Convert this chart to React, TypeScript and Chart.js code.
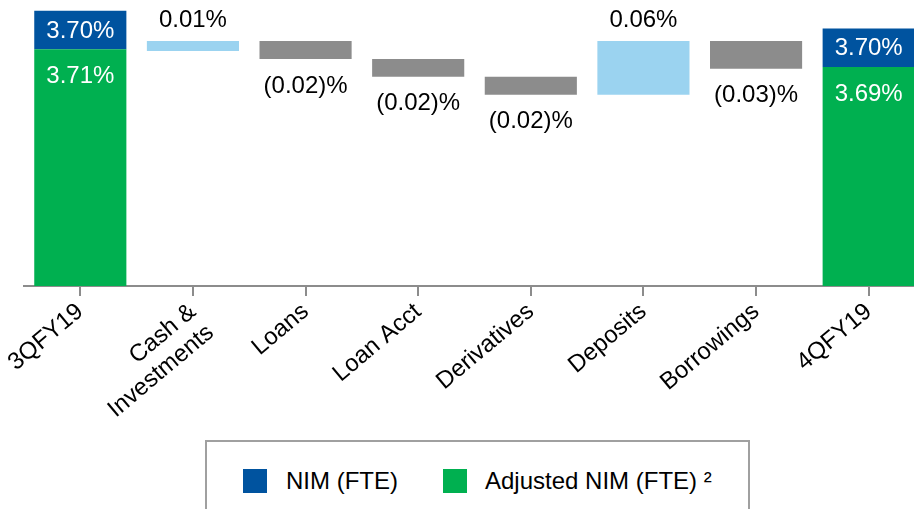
import React, { useEffect, useRef } from 'react';
import { Chart, registerables } from 'chart.js';

Chart.register(...registerables);

const FONT = "'Liberation Sans', Arial, sans-serif";

const categories: (string | string[])[] = [
  '3QFY19',
  ['Cash &', 'Investments'],
  'Loans',
  'Loan Acct',
  'Derivatives',
  'Deposits',
  'Borrowings',
  '4QFY19',
];

// Value axis (stylised NIM %, truncated baseline)
const axisMin = 3.4;
const axisMax = 3.72;

// Floating bar ranges [start, end]
const adjustedNim = [[3.4, 3.665], null, null, null, null, null, null, [3.4, 3.645]];
const nim = [[3.665, 3.708], null, null, null, null, null, null, [3.645, 3.688]];
const increases = [null, [3.663, 3.674], null, null, null, [3.614, 3.674], null, null];
const decreases = [null, null, [3.654, 3.674], [3.634, 3.654], [3.614, 3.634], null, [3.643, 3.674], null];

const nimLabels = ['3.70%', '', '', '', '', '', '', '3.70%'];
const adjustedLabels = ['3.71%', '', '', '', '', '', '', '3.69%'];
const changeLabels = ['', '0.01%', '(0.02)%', '(0.02)%', '(0.02)%', '0.06%', '(0.03)%', ''];

const BLUE = '#00539F';
const GREEN = '#00B050';
const LIGHT_BLUE = '#9BD3F0';
const GRAY = '#8C8C8C';

const labelPlugin = {
  id: 'barLabels',
  afterDatasetsDraw(chart: any) {
    const ctx = chart.ctx;
    ctx.save();
    ctx.font = `24px ${FONT}`;
    ctx.textAlign = 'center';
    ctx.textBaseline = 'middle';
    chart.data.datasets.forEach((ds: any, di: number) => {
      const meta = chart.getDatasetMeta(di);
      meta.data.forEach((el: any, i: number) => {
        const text = ds.labels[i];
        if (!text || !ds.data[i]) return;
        const p = el.getProps(['x', 'y', 'base'], true);
        const top = Math.min(p.y, p.base);
        const bottom = Math.max(p.y, p.base);
        let ty = 0;
        if (ds.kind === 'nim') {
          ctx.fillStyle = '#ffffff';
          ty = (top + bottom) / 2 + 1;
        } else if (ds.kind === 'adjusted') {
          ctx.fillStyle = '#ffffff';
          ty = top + 27;
        } else if (ds.kind === 'increase') {
          ctx.fillStyle = '#000000';
          ty = top - 21;
        } else {
          ctx.fillStyle = '#000000';
          ty = bottom + 27;
        }
        ctx.fillText(text, p.x, ty);
      });
    });
    ctx.restore();
  },
};

export default function App() {
  const ref = useRef<HTMLCanvasElement | null>(null);

  useEffect(() => {
    if (!ref.current) return;
    const common = { grouped: false, barPercentage: 0.818, categoryPercentage: 1, borderWidth: 0 };
    const chart = new Chart(ref.current, {
      type: 'bar',
      data: {
        labels: categories,
        datasets: [
          { label: 'Adjusted NIM (FTE) ²', data: adjustedNim, backgroundColor: GREEN, kind: 'adjusted', labels: adjustedLabels, ...common } as any,
          { label: 'NIM (FTE)', data: nim, backgroundColor: BLUE, kind: 'nim', labels: nimLabels, ...common } as any,
          { label: 'Increase', data: increases, backgroundColor: LIGHT_BLUE, kind: 'increase', labels: changeLabels, ...common } as any,
          { label: 'Decrease', data: decreases, backgroundColor: GRAY, kind: 'decrease', labels: changeLabels, ...common } as any,
        ],
      },
      options: {
        responsive: false,
        animation: false,
        devicePixelRatio: 1,
        layout: { padding: { left: 24, right: 15, top: 0, bottom: 0 } },
        plugins: { legend: { display: false }, tooltip: { enabled: false } },
        scales: {
          x: {
            grid: {
              display: true,
              drawOnChartArea: false,
              drawTicks: true,
              tickLength: 10,
              offset: false,
              color: GRAY,
              lineWidth: 2,
            },
            border: { display: true, color: GRAY, width: 2 },
            ticks: {
              color: '#000000',
              font: { family: FONT, size: 24, lineHeight: 1.15 },
              minRotation: 40,
              maxRotation: 40,
              autoSkip: false,
              padding: 2,
            },
            afterFit: (s: any) => {
              s.paddingLeft = 0;
              s.paddingRight = 0;
              s.height = 223;
            },
          },
          y: { display: false, min: axisMin, max: axisMax },
        },
      } as any,
      plugins: [labelPlugin],
    });
    return () => chart.destroy();
  }, []);

  const textStyle: React.CSSProperties = {
    position: 'absolute',
    fontFamily: FONT,
    fontSize: 24,
    lineHeight: '28px',
    height: 28,
    color: '#000',
    whiteSpace: 'nowrap',
  };

  return (
    <div style={{ position: 'fixed', left: 0, top: 0, width: 914, height: 509, overflow: 'hidden', background: '#fff' }}>
      <canvas ref={ref} width={940} height={509} style={{ display: 'block', width: 940, height: 509 }} />
      <div
        style={{
          position: 'absolute',
          left: 205,
          top: 440,
          width: 545,
          height: 100,
          border: '2px solid #a0a0a0',
          boxSizing: 'border-box',
          background: '#fff',
        }}
      >
        <div style={{ position: 'absolute', left: 36, top: 27, width: 24, height: 24, background: BLUE }} />
        <div style={{ ...textStyle, left: 79, top: 25 }}>NIM (FTE)</div>
        <div style={{ position: 'absolute', left: 236, top: 27, width: 24, height: 24, background: GREEN }} />
        <div style={{ ...textStyle, left: 278, top: 25 }}>Adjusted NIM (FTE) ²</div>
      </div>
    </div>
  );
}
